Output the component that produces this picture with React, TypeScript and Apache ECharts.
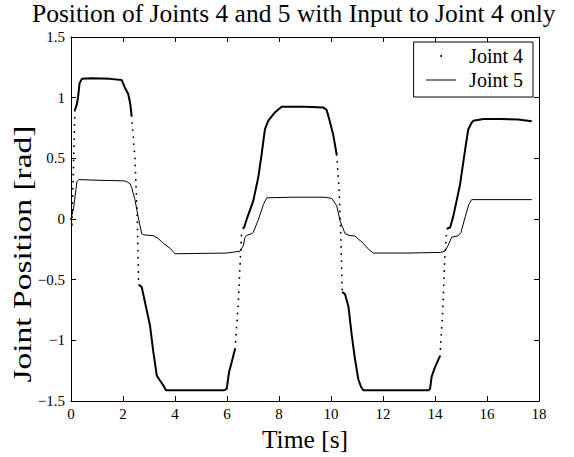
import { useEffect, useRef } from "react";
import * as echarts from "echarts";

const chartTitle = "Position of Joints 4 and 5 with Input to Joint 4 only";
const xName = "Time [s]";
const yName = "Joint Position [rad]";
const seriesNames = ["Joint 4", "Joint 5"];

// Joint 4 trajectory [time s, position rad]
const joint4: [number, number][] = [
  [0, 0], [0.03, -0.08], [0.08, 0.3], [0.15, 0.9],
  [0.22, 0.94], [0.27, 1.0], [0.33, 1.12], [0.42, 1.155], [0.8, 1.16], [1.5, 1.155], [1.95, 1.145],
  [2.08, 1.08], [2.2, 1.03], [2.28, 0.95], [2.33, 0.85],
  [2.46, 0.5], [2.55, 0.0], [2.6, -0.54],
  [2.72, -0.56], [2.85, -0.69], [3.04, -0.88], [3.17, -1.1], [3.3, -1.29], [3.42, -1.33], [3.55, -1.37],
  [3.65, -1.41], [5.9, -1.41], [5.99, -1.4], [6.08, -1.26], [6.18, -1.18], [6.31, -1.07],
  [6.44, -0.67], [6.5, -0.39], [6.56, -0.12], [6.6, -0.08],
  [6.66, -0.07], [6.76, 0.0], [7.01, 0.15], [7.2, 0.34], [7.33, 0.53], [7.46, 0.74], [7.59, 0.81],
  [7.85, 0.88], [8.1, 0.925], [9.0, 0.925], [9.7, 0.92], [9.83, 0.9], [9.96, 0.8], [10.09, 0.69], [10.22, 0.53],
  [10.31, 0.26], [10.38, -0.15], [10.43, -0.6],
  [10.54, -0.62], [10.67, -0.72], [10.8, -0.96], [10.92, -1.15], [11.05, -1.32], [11.15, -1.38],
  [11.24, -1.41], [13.75, -1.41], [13.81, -1.4], [13.87, -1.3], [14.0, -1.22], [14.19, -1.13],
  [14.3, -0.75], [14.38, -0.31], [14.45, -0.08],
  [14.58, -0.07], [14.7, 0.02], [14.83, 0.15], [14.96, 0.28], [15.15, 0.56], [15.28, 0.74], [15.4, 0.79],
  [15.47, 0.81], [15.86, 0.825], [16.5, 0.825], [17.2, 0.82], [17.72, 0.805],
];

// time spans where joint 4 moves fast (drawn as sparse dots)
const joint4FastSpans: [number, number][] = [
  [0, 0.15], [2.33, 2.6], [6.31, 6.6], [10.22, 10.43], [14.19, 14.45],
];

// Joint 5 trajectory [time s, position rad]
const joint5: [number, number][] = [
  [0, 0], [0.1, 0.09], [0.23, 0.31], [0.3, 0.325], [1.0, 0.32], [2.0, 0.315], [2.14, 0.31], [2.27, 0.29],
  [2.33, 0.26], [2.46, 0.16], [2.59, 0.01], [2.72, -0.12], [2.8, -0.13], [3.17, -0.137], [3.35, -0.16],
  [3.55, -0.2], [3.81, -0.24], [4.0, -0.286], [6.0, -0.28], [6.5, -0.265], [6.63, -0.22], [6.69, -0.15],
  [6.76, -0.135], [6.95, -0.12], [7.01, -0.11], [7.14, -0.04], [7.2, -0.01], [7.4, 0.12], [7.53, 0.175],
  [8.5, 0.18], [9.77, 0.18], [10.03, 0.17], [10.22, 0.11], [10.35, -0.015], [10.54, -0.12], [10.7, -0.135],
  [10.92, -0.14], [11.24, -0.2], [11.45, -0.25], [11.63, -0.28], [13.0, -0.28], [14.2, -0.275],
  [14.38, -0.265], [14.5, -0.22], [14.64, -0.15], [14.9, -0.137], [15.0, -0.11], [15.15, 0.01],
  [15.3, 0.12], [15.41, 0.16], [16.5, 0.16], [17.72, 0.16],
];

function splitBySpans(points: [number, number][], spans: [number, number][]) {
  const solid: any[] = [];
  const dotted: any[] = [];
  for (let i = 0; i < points.length - 1; i++) {
    const a = points[i];
    const b = points[i + 1];
    const fast = spans.some(([s, e]) => a[0] >= s && b[0] <= e);
    const target = fast ? dotted : solid;
    const last = target[target.length - 1];
    if (!last || last[0] !== a[0] || last[1] !== a[1]) {
      if (last) target.push([a[0], "-"]);
      target.push(a);
    }
    target.push(b);
  }
  return { solid, dotted };
}

const FONT = "'Liberation Serif', 'Times New Roman', serif";
const fmt = (v: number) => (v < 0 ? "\u2212" + String(Math.abs(v)) : String(v));

export default function App() {
  const ref = useRef<HTMLDivElement>(null);
  useEffect(() => {
    if (!ref.current) return;
    const chart = echarts.init(ref.current, null, { renderer: "svg" });
    const { solid, dotted } = splitBySpans(joint4, joint4FastSpans);
    const axisCommon = {
      axisLine: { show: true, onZero: false, lineStyle: { color: "#000", width: 1 } },
      axisTick: { show: true, inside: true, length: 5, lineStyle: { color: "#000" } },
      splitLine: { show: false },
    };
    chart.setOption({
      animation: false,
      backgroundColor: "#fff",
      color: ["#000", "#000", "#000"],
      title: {
        text: chartTitle,
        left: 32,
        top: 0,
        padding: 0,
        textStyle: { fontFamily: FONT, fontSize: 25.5, fontWeight: "normal", color: "#000" },
      },
      legend: {
        orient: "vertical",
        right: 41,
        top: 42,
        padding: [4, 10, 7, 12],
        itemWidth: 30,
        itemHeight: 2,
        itemGap: 4,
        borderColor: "#000",
        borderWidth: 1,
        borderRadius: 0,
        backgroundColor: "#fff",
        textStyle: { fontFamily: FONT, fontSize: 20, color: "#000", lineHeight: 20, padding: [0, 0, 0, 8] },
        data: [
          { name: seriesNames[0], icon: "circle", itemStyle: { color: "#000" } },
          { name: seriesNames[1], lineStyle: { width: 1, color: "#000" }, itemStyle: { color: "#000", opacity: 0 } },
        ],
      },
      grid: { left: 71, right: 35, top: 37, bottom: 51, containLabel: false },
      xAxis: [
        {
          type: "value", min: 0, max: 18, interval: 2, position: "bottom",
          ...axisCommon,
          axisLabel: { fontFamily: FONT, fontSize: 15, color: "#000", margin: 5, formatter: fmt },
          name: xName, nameLocation: "middle", nameGap: 24,
          nameTextStyle: { fontFamily: FONT, fontSize: 25.5, color: "#000" },
        },
        {
          type: "value", min: 0, max: 18, interval: 2, position: "top",
          ...axisCommon, axisLabel: { show: false },
        },
      ],
      yAxis: [
        {
          type: "value", min: -1.5, max: 1.5, interval: 0.5, position: "left",
          ...axisCommon,
          axisLabel: { fontFamily: FONT, fontSize: 15, color: "#000", margin: 6, formatter: fmt },
        },
        {
          type: "value", min: -1.5, max: 1.5, interval: 0.5, position: "right",
          ...axisCommon, axisLabel: { show: false },
        },
      ],
      graphic: [
        {
          type: "text",
          x: 22,
          y: 254,
          rotation: Math.PI / 2,
          scaleX: 1.29,
          style: {
            text: yName,
            fontFamily: FONT,
            fontSize: 26,
            fill: "#000",
            align: "center",
            verticalAlign: "middle",
          },
        },
      ],
      series: [
        {
          name: seriesNames[0], type: "line", data: solid, symbol: "none", connectNulls: false,
          lineStyle: { color: "#000", width: 2 }, itemStyle: { color: "#000" }, silent: true,
        },
        {
          name: seriesNames[0], type: "line", data: dotted, symbol: "none", connectNulls: false,
          lineStyle: { color: "#000", width: 1.8, type: [0.1, 7], cap: "round" }, silent: true,
        },
        {
          name: seriesNames[1], type: "line", data: joint5, symbol: "none",
          lineStyle: { color: "#000", width: 1 }, itemStyle: { color: "#000" }, silent: true,
        },
      ],
    });
    return () => chart.dispose();
  }, []);
  return <div ref={ref} style={{ position: "fixed", left: 0, top: 0, width: 574, height: 457 }} />;
}
